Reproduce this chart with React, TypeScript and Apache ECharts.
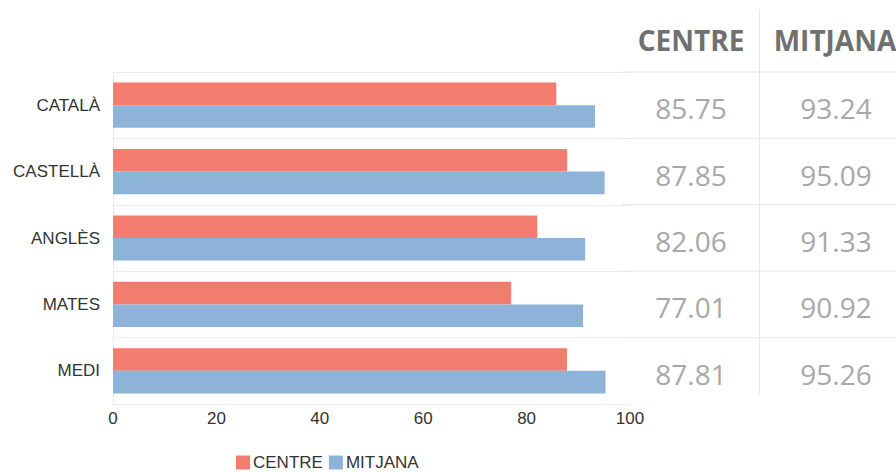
import React, { useEffect, useRef } from "react";
import * as echarts from "echarts";

const categories = ["CATALÀ", "CASTELLÀ", "ANGLÈS", "MATES", "MEDI"];
const centreValues = [85.75, 87.85, 82.06, 77.01, 87.81];
const mitjanaValues = [93.24, 95.09, 91.33, 90.92, 95.26];
const seriesNames = ["CENTRE", "MITJANA"];
const tableHeaders = ["CENTRE", "MITJANA"];

const RED = "#F27D6F";
const BLUE = "#8DB4D8";

export default function App() {
  const ref = useRef<HTMLDivElement>(null);
  useEffect(() => {
    if (!ref.current) return;
    const chart = echarts.init(ref.current, null, { renderer: "svg" });
    chart.setOption({
      animation: false,
      backgroundColor: "#ffffff",
      grid: { left: 113, right: 266, top: 72, bottom: 68, containLabel: false },
      legend: {
        data: seriesNames,
        left: 236,
        top: 454,
        padding: 0,
        itemWidth: 14,
        itemHeight: 14,
        itemGap: 6,
        icon: "rect",
        textStyle: { fontFamily: "Liberation Sans", fontSize: 17, color: "#333", padding: [0, 0, 0, -2] },
      },
      xAxis: {
        type: "value",
        min: 0,
        max: 100,
        interval: 20,
        axisLine: { show: false },
        axisTick: { show: false },
        splitLine: { show: false },
        axisLabel: { fontFamily: "Liberation Sans", fontSize: 17, color: "#333", margin: 6 },
      },
      yAxis: {
        type: "category",
        data: categories,
        inverse: true,
        axisLine: { show: true, lineStyle: { color: "#ececec" } },
        axisTick: { show: false },
        splitLine: { show: true, lineStyle: { color: "#ececec" } },
        axisLabel: { fontFamily: "Liberation Sans", fontSize: 17, color: "#333", margin: 13 },
      },
      series: [
        {
          name: seriesNames[0],
          type: "bar",
          data: centreValues,
          itemStyle: { color: RED },
          barGap: "0%",
          barCategoryGap: "32%",
        },
        {
          name: seriesNames[1],
          type: "bar",
          data: mitjanaValues,
          itemStyle: { color: BLUE },
          barGap: "0%",
          barCategoryGap: "32%",
        },
      ],
    });

    const ys = categories.map((_, i) => chart.convertToPixel({ yAxisIndex: 0 }, i) as number);
    const band = ys.length > 1 ? ys[1] - ys[0] : 66;
    const colX = [691, 836];
    const headerX = [691, 835];
    const tableLeft = 621;
    const sepX = 759.5;
    const headerY = 40;
    const graphics: any[] = [];
    tableHeaders.forEach((h, c) => {
      graphics.push({
        type: "text",
        x: headerX[c],
        y: headerY,
        style: {
          text: h,
          fontFamily: "Open Sans",
          fontWeight: "bold",
          fontSize: 28,
          fill: "#707070",
          align: "center",
          verticalAlign: "middle",
        },
      });
    });
    ys.forEach((y, i) => {
      graphics.push({
        type: "line",
        shape: { x1: tableLeft, y1: y - band / 2, x2: 896, y2: y - band / 2 },
        style: { stroke: "#e6e6e6", lineWidth: 1 },
      });
      [centreValues[i], mitjanaValues[i]].forEach((v, c) => {
        graphics.push({
          type: "text",
          x: colX[c],
          y: y + 3,
          style: {
            text: v.toFixed(2),
            fontFamily: "Open Sans",
            fontSize: 28,
            fill: "#a8a8a8",
            align: "center",
            verticalAlign: "middle",
          },
        });
      });
    });
    graphics.push({
      type: "line",
      shape: { x1: sepX, y1: 10, x2: sepX, y2: ys[ys.length - 1] + band / 2 - 9 },
      style: { stroke: "#e6e6e6", lineWidth: 1 },
    });
    chart.setOption({ graphic: graphics });

    return () => chart.dispose();
  }, []);
  return (
    <div
      ref={ref}
      style={{ position: "absolute", left: 0, top: 0, width: 896, height: 472 }}
    />
  );
}
